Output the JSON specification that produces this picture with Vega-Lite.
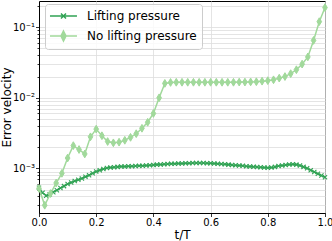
{
  "$schema": "https://vega.github.io/schema/vega-lite/v6.json",
  "width": 286,
  "height": 212,
  "autosize": {"type": "none"},
  "padding": {"left": 39, "top": 1, "right": 7, "bottom": 28},
  "config": {
    "view": {"stroke": "#000000", "strokeWidth": 1},
    "font": "DejaVu Sans",
    "axis": {
      "domainColor": "#000000",
      "domainWidth": 1,
      "tickColor": "#000000",
      "tickWidth": 0.8,
      "gridColor": "#dddddd",
      "gridWidth": 0.8,
      "labelColor": "#000000",
      "labelFont": "DejaVu Sans",
      "labelFontSize": 10,
      "titleFont": "DejaVu Sans",
      "titleFontSize": 12,
      "titleFontWeight": "normal",
      "titleColor": "#000000",
      "labelOverlap": false,
      "labelBound": false,
      "labelFlush": false
    }
  },
  "datasets": {
    "lift": [
      {"t": 0.0, "v": 0.00053}, {"t": 0.0125, "v": 0.00045}, {"t": 0.025, "v": 0.00041}, {"t": 0.0375, "v": 0.00043},
      {"t": 0.05, "v": 0.00046}, {"t": 0.0625, "v": 0.00049}, {"t": 0.075, "v": 0.000525}, {"t": 0.0875, "v": 0.00056},
      {"t": 0.1, "v": 0.0006}, {"t": 0.1125, "v": 0.00063}, {"t": 0.125, "v": 0.00066}, {"t": 0.1375, "v": 0.00069},
      {"t": 0.15, "v": 0.00072}, {"t": 0.1625, "v": 0.00076}, {"t": 0.175, "v": 0.0008}, {"t": 0.1875, "v": 0.00085},
      {"t": 0.2, "v": 0.0009}, {"t": 0.2125, "v": 0.00094}, {"t": 0.225, "v": 0.00098}, {"t": 0.2375, "v": 0.00101},
      {"t": 0.25, "v": 0.00103}, {"t": 0.2625, "v": 0.00104}, {"t": 0.275, "v": 0.00105}, {"t": 0.2875, "v": 0.00106},
      {"t": 0.3, "v": 0.001065}, {"t": 0.3125, "v": 0.00107}, {"t": 0.325, "v": 0.001075}, {"t": 0.3375, "v": 0.00108},
      {"t": 0.35, "v": 0.001085}, {"t": 0.3625, "v": 0.00109}, {"t": 0.375, "v": 0.0011}, {"t": 0.3875, "v": 0.00111},
      {"t": 0.4, "v": 0.00112}, {"t": 0.4125, "v": 0.00113}, {"t": 0.425, "v": 0.001135}, {"t": 0.4375, "v": 0.00114},
      {"t": 0.45, "v": 0.00115}, {"t": 0.4625, "v": 0.00116}, {"t": 0.475, "v": 0.001165}, {"t": 0.4875, "v": 0.00117},
      {"t": 0.5, "v": 0.001175}, {"t": 0.5125, "v": 0.00118}, {"t": 0.525, "v": 0.001185}, {"t": 0.5375, "v": 0.00119},
      {"t": 0.55, "v": 0.00119}, {"t": 0.5625, "v": 0.00119}, {"t": 0.575, "v": 0.00119}, {"t": 0.5875, "v": 0.001185},
      {"t": 0.6, "v": 0.00118}, {"t": 0.6125, "v": 0.00117}, {"t": 0.625, "v": 0.00116}, {"t": 0.6375, "v": 0.00115},
      {"t": 0.65, "v": 0.00114}, {"t": 0.6625, "v": 0.00113}, {"t": 0.675, "v": 0.00112}, {"t": 0.6875, "v": 0.00111},
      {"t": 0.7, "v": 0.0011}, {"t": 0.7125, "v": 0.00109}, {"t": 0.725, "v": 0.001075}, {"t": 0.7375, "v": 0.001065},
      {"t": 0.75, "v": 0.001055}, {"t": 0.7625, "v": 0.001045}, {"t": 0.775, "v": 0.001035}, {"t": 0.7875, "v": 0.001025},
      {"t": 0.8, "v": 0.00102}, {"t": 0.8125, "v": 0.00103}, {"t": 0.825, "v": 0.00105}, {"t": 0.8375, "v": 0.00108},
      {"t": 0.85, "v": 0.0011}, {"t": 0.8625, "v": 0.00112}, {"t": 0.875, "v": 0.001135}, {"t": 0.8875, "v": 0.00114},
      {"t": 0.9, "v": 0.00113}, {"t": 0.9125, "v": 0.0011}, {"t": 0.925, "v": 0.00105}, {"t": 0.9375, "v": 0.001},
      {"t": 0.95, "v": 0.00094}, {"t": 0.9625, "v": 0.00089}, {"t": 0.975, "v": 0.00084}, {"t": 0.9875, "v": 0.00079},
      {"t": 1.0, "v": 0.00075}
    ],
    "nolift": [
      {"t": 0.0, "v": 0.00052}, {"t": 0.02, "v": 0.0003}, {"t": 0.04, "v": 0.00044}, {"t": 0.06, "v": 0.00062},
      {"t": 0.08, "v": 0.00085}, {"t": 0.1, "v": 0.0014}, {"t": 0.12, "v": 0.0021}, {"t": 0.14, "v": 0.00185},
      {"t": 0.16, "v": 0.0016}, {"t": 0.18, "v": 0.0028}, {"t": 0.2, "v": 0.0036}, {"t": 0.22, "v": 0.0029},
      {"t": 0.24, "v": 0.0024}, {"t": 0.26, "v": 0.0023}, {"t": 0.28, "v": 0.00235}, {"t": 0.3, "v": 0.0025},
      {"t": 0.32, "v": 0.00275}, {"t": 0.34, "v": 0.0031}, {"t": 0.36, "v": 0.0037}, {"t": 0.38, "v": 0.0045},
      {"t": 0.4, "v": 0.006}, {"t": 0.42, "v": 0.01}, {"t": 0.44, "v": 0.016}, {"t": 0.46, "v": 0.0165},
      {"t": 0.48, "v": 0.0166}, {"t": 0.5, "v": 0.0166}, {"t": 0.52, "v": 0.0166}, {"t": 0.54, "v": 0.0166},
      {"t": 0.56, "v": 0.0166}, {"t": 0.58, "v": 0.0166}, {"t": 0.6, "v": 0.0166}, {"t": 0.62, "v": 0.0166},
      {"t": 0.64, "v": 0.0166}, {"t": 0.66, "v": 0.0166}, {"t": 0.68, "v": 0.0166}, {"t": 0.7, "v": 0.0167},
      {"t": 0.72, "v": 0.0167}, {"t": 0.74, "v": 0.0168}, {"t": 0.76, "v": 0.0169}, {"t": 0.78, "v": 0.0172},
      {"t": 0.8, "v": 0.0175}, {"t": 0.82, "v": 0.018}, {"t": 0.84, "v": 0.019}, {"t": 0.86, "v": 0.02},
      {"t": 0.88, "v": 0.022}, {"t": 0.9, "v": 0.025}, {"t": 0.92, "v": 0.03}, {"t": 0.94, "v": 0.038},
      {"t": 0.96, "v": 0.065}, {"t": 0.98, "v": 0.12}, {"t": 1.0, "v": 0.19}
    ]
  },
  "encoding": {
    "x": {
      "field": "t",
      "type": "quantitative",
      "scale": {"domain": [0, 1], "nice": false, "zero": false},
      "axis": {
        "title": "t/T",
        "values": [0, 0.2, 0.4, 0.6, 0.8, 1.0],
        "format": ".1f",
        "tickSize": 3.5,
        "labelPadding": 1,
        "titlePadding": 2,
        "grid": true
      }
    },
    "y": {
      "field": "v",
      "type": "quantitative",
      "scale": {"type": "log", "domain": [0.000233, 0.2355], "nice": false},
      "axis": {
        "title": "Error velocity",
        "values": [0.0003, 0.0004, 0.0005, 0.0006, 0.0007, 0.0008, 0.0009, 0.001, 0.002, 0.003, 0.004, 0.005, 0.006, 0.007, 0.008, 0.009, 0.01, 0.02, 0.03, 0.04, 0.05, 0.06, 0.07, 0.08, 0.09, 0.1, 0.2],
        "labelExpr": "datum.value == 0.001 ? '10⁻³' : datum.value == 0.01 ? '10⁻²' : datum.value == 0.1 ? '10⁻¹' : ''",
        "tickSize": {"condition": {"test": "datum.value == 0.001 || datum.value == 0.01 || datum.value == 0.1", "value": 3.5}, "value": 2},
        "labelPadding": 1,
        "titleX": -26,
        "titleY": 106,
        "titleAngle": -90,
        "titleBaseline": "bottom",
        "titleAlign": "center",
        "grid": true
      }
    }
  },
  "layer": [
    {
      "data": {"name": "lift"},
      "mark": {"type": "line", "strokeWidth": 1.5},
      "encoding": {
        "stroke": {
          "datum": "Lifting pressure",
          "type": "nominal",
          "scale": {"domain": ["Lifting pressure", "No lifting pressure"], "range": ["#31a354", "#a1d99b"]},
          "legend": {
            "orient": "none",
            "legendX": 6,
            "legendY": 3,
            "title": null,
            "padding": 5,
            "rowPadding": 6,
            "fillColor": "rgba(255,255,255,0.8)",
            "strokeColor": "#cccccc",
            "cornerRadius": 3,
            "symbolSize": 144,
            "symbolStrokeWidth": 1.5,
            "labelFontSize": 12,
            "labelOffset": 23,
            "labelFont": "DejaVu Sans",
            "labelColor": "#000000",
            "encode": {
              "symbols": {
                "update": {
                  "shape": {"signal": "datum.value === 'Lifting pressure' ? 'M-1.17,0H3.33M0.66,-0.42L1.5,0.42M0.66,0.42L1.5,-0.42' : 'M-1.17,0H3.33M1.08,-0.83L1.5,0L1.08,0.83L0.66,0Z'"},
                  "fill": {"signal": "datum.value === 'Lifting pressure' ? 'transparent' : '#a1d99b'"}
                }
              }
            }
          }
        }
      }
    },
    {
      "data": {"name": "lift"},
      "mark": {"type": "point", "shape": "M-1,-1L1,1M-1,1L1,-1", "size": 18, "filled": false, "strokeWidth": 1.1, "color": "#31a354", "opacity": 1}
    },
    {
      "data": {"name": "nolift"},
      "mark": {"type": "line", "strokeWidth": 1.5},
      "encoding": {
        "stroke": {"datum": "No lifting pressure", "type": "nominal"}
      }
    },
    {
      "data": {"name": "nolift"},
      "mark": {"type": "point", "shape": "M0,-1L0.6,0L0,1L-0.6,0Z", "size": 60, "filled": true, "fill": "#a1d99b", "stroke": "#a1d99b", "strokeWidth": 1, "opacity": 1}
    }
  ]
}
